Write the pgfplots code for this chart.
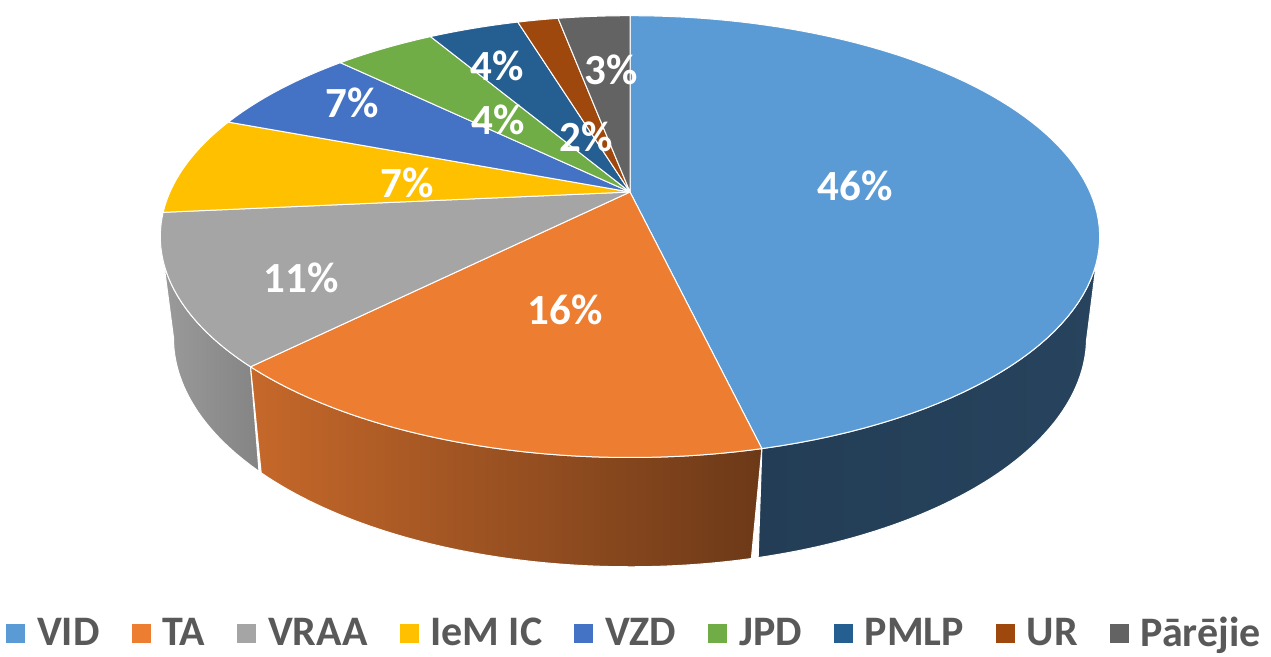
\documentclass[border=0pt]{standalone}
\usepackage{fontspec}
\setmainfont{Carlito}
\usepackage{pgfplots}
\pgfplotsset{compat=1.18}
\usepackage{pgfplotstable}

\definecolor{c0}{HTML}{5B9BD5}
\definecolor{c1}{HTML}{ED7D31}
\definecolor{c2}{HTML}{A5A5A5}
\definecolor{c3}{HTML}{FFC000}
\definecolor{c4}{HTML}{4472C4}
\definecolor{c5}{HTML}{70AD47}
\definecolor{c6}{HTML}{255E91}
\definecolor{c7}{HTML}{9E480E}
\definecolor{c8}{HTML}{636363}
\definecolor{lg}{HTML}{595959}
\definecolor{grayL}{RGB}{155,155,155}
\definecolor{grayR}{RGB}{132,132,132}
\definecolor{orL}{RGB}{198,104,42}
\definecolor{orR}{RGB}{108,57,24}
\definecolor{blL}{RGB}{35,61,86}
\definecolor{blR}{RGB}{39,67,93}

% shares of the pie (percent)
\pgfplotstableread{
val
46.3
16.2
11.0
7.25
6.5
4.25
3.8
1.7
3.0
}\piedata

% data label positions (pixel coordinates of the picture)
\pgfplotstableread{
x y lab
855 186 46\%
565 310 16\%
301 278 11\%
407 183 7\%
352 103 7\%
498 120 4\%
497 66 4\%
586 137 2\%
611 70 3\%
}\labdata

\begin{document}
\begin{tikzpicture}
\pgfmathsetmacro\cumval{0}
\foreach \i in {0,...,8}{%
  \pgfplotstablegetelem{\i}{val}\of\piedata
  \let\thisval\pgfplotsretval
  \pgfmathsetmacro\angA{90-3.6*\cumval}%
  \pgfmathsetmacro\angB{90-3.6*(\cumval+\thisval)}%
  \expandafter\xdef\csname sa\i\endcsname{\angA}%
  \expandafter\xdef\csname sb\i\endcsname{\angB}%
  \pgfmathsetmacro\newcum{\cumval+\thisval}%
  \xdef\cumval{\newcum}%
}
\begin{axis}[
  scale only axis, width=635.5pt, height=328.5pt,
  xmin=0, xmax=1271, ymin=0, ymax=657, y dir=reverse,
  hide axis, clip=false,
  declare function={
    px(\p)=630+460*cos(\p)/(1+0.2019*sin(\p));
    py(\p)=192-211.9*sin(\p)/(1+0.2019*sin(\p));
    wphi(\t,\l,\h)=(\t<=1)*(\l+(\h-\l)*\t)+(\t>1)*(\h-(\h-\l)*(\t-1));
    wx(\t,\l,\h)=(\t<=1)*px(wphi(\t,\l,\h))+(\t>1)*(630+0.972*(px(wphi(\t,\l,\h))-630));
    wy(\t,\l,\h)=py(wphi(\t,\l,\h))+(\t>1)*99/(1+0.094*sin(wphi(\t,\l,\h)));
  },
  legend columns=9,
  legend style={draw=none, fill=none, at={(0.5,0.036)}, anchor=center,
    font=\fontsize{21}{22}\selectfont\bfseries, text=lg,
    /tikz/every odd column/.append style={column sep=4pt},
    /tikz/every even column/.append style={column sep=14pt}},
  legend image code/.code={\fill[#1] (0pt,-4.5pt) rectangle (9pt,4.5pt);},
]
\path (rel axis cs:0,0) rectangle (rel axis cs:1,1);

% side walls (front, visible part)
\edef\hi{\csname sa2\endcsname}
\addplot[forget plot, draw=white, line width=0.5pt, left color=grayL, right color=grayR,
  domain=0:2, samples=161, variable=\t]
  ({wx(\t,-168.35,\hi)}, {wy(\t,-168.35,\hi)}) -- cycle;
\edef\lo{\csname sb1\endcsname}\edef\hi{\csname sa1\endcsname}
\addplot[forget plot, draw=white, line width=0.5pt, left color=orL, right color=orR,
  domain=0:2, samples=161, variable=\t]
  ({wx(\t,\lo,\hi)}, {wy(\t,\lo,\hi)}) -- cycle;
\edef\lo{\csname sb0\endcsname}
\addplot[forget plot, draw=white, line width=0.5pt, left color=blL, right color=blR,
  domain=0:2, samples=161, variable=\t]
  ({wx(\t,\lo,-11.65)}, {wy(\t,\lo,-11.65)}) -- cycle;

% top faces
\pgfplotsinvokeforeach{0,...,8}{
  \edef\lo{\csname sb#1\endcsname}\edef\hi{\csname sa#1\endcsname}
  \addplot[forget plot, fill=c#1, draw=white, line width=0.5pt, line join=round,
    domain=\lo:\hi, samples=90, variable=\t]
    ({px(\t)}, {py(\t)}) -- (axis cs:630,192) -- cycle;
}

% data labels
\addplot[forget plot, only marks, mark=*, mark size=0pt, mark options={draw=none,fill=none},
  nodes near coords, point meta=explicit symbolic,
  every node near coord/.append style={anchor=center, inner sep=0pt, text=white,
    font=\fontsize{21.5}{24}\selectfont\bfseries}]
  table[x=x, y=y, meta=lab] {\labdata};

\addlegendimage{c0}\addlegendentry{VID}
\addlegendimage{c1}\addlegendentry{TA}
\addlegendimage{c2}\addlegendentry{VRAA}
\addlegendimage{c3}\addlegendentry{IeM IC}
\addlegendimage{c4}\addlegendentry{VZD}
\addlegendimage{c5}\addlegendentry{JPD}
\addlegendimage{c6}\addlegendentry{PMLP}
\addlegendimage{c7}\addlegendentry{UR}
\addlegendimage{c8}\addlegendentry{Pārējie}
\end{axis}
\pgfresetboundingbox
\path (current axis.south west) rectangle (current axis.north east);
\end{tikzpicture}
\end{document}
